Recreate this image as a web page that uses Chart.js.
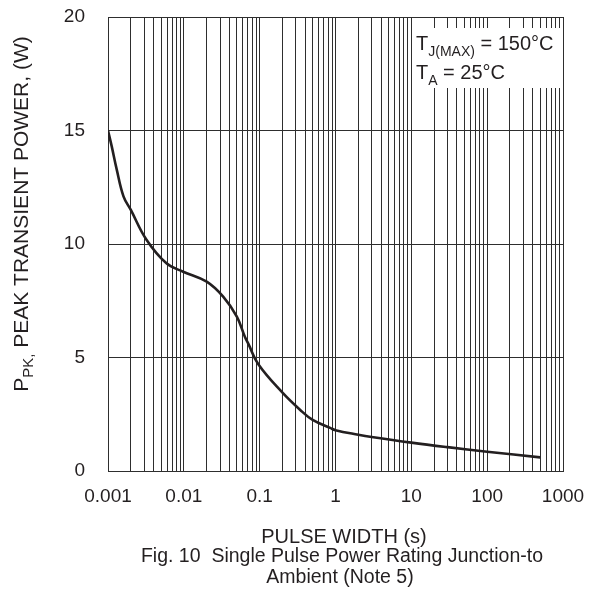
<!DOCTYPE html>
<html>
<head>
<meta charset="utf-8">
<script src="https://cdn.jsdelivr.net/npm/chart.js@4"></script>
<style>
  html, body { margin: 0; padding: 0; background: #fff; }
  canvas { display: block; }
</style>
</head>
<body>
<canvas id="pulseChart" width="598" height="591"></canvas>
<script>
// pulse width (s) and peak transient power (W)
const pulseWidth = [0.001, 0.00112, 0.0013, 0.0016, 0.002, 0.0032, 0.0059, 0.0098, 0.02, 0.033, 0.05, 0.064, 0.071, 0.096, 0.2, 0.34, 0.5, 0.85, 1, 2, 3, 10, 30, 100, 500];
const peakPower = [15.0, 14.3, 13.3, 12.1, 11.5, 10.2, 9.15, 8.78, 8.34, 7.68, 6.8, 5.9, 5.6, 4.7, 3.45, 2.7, 2.25, 1.9, 1.8, 1.6, 1.5, 1.25, 1.05, 0.85, 0.6];

const xTickLabels = ["0.001", "0.01", "0.1", "1", "10", "100", "1000"];
const yTicks = [0, 5, 10, 15, 20];

const FONT = "'Liberation Sans', Arial, sans-serif";
const INK = "#231f20";
const GRID = "#2e2e2e";

const textPlugin = {
  id: "textPlugin",
  afterDraw(chart) {
    const { ctx, chartArea, scales } = chart;
    ctx.save();
    ctx.fillStyle = INK;
    ctx.textBaseline = "alphabetic";

    // condition box, top right
    const boxLeft = scales.x.getPixelForValue(10) + 1.5;
    ctx.fillStyle = "#fff";
    ctx.fillRect(boxLeft, 28, chartArea.right - 1 - boxLeft, 60);
    ctx.fillStyle = INK;
    ctx.textAlign = "left";
    let x = 416;
    ctx.font = "20px " + FONT;
    ctx.fillText("T", x, 50);
    x += ctx.measureText("T").width;
    ctx.font = "14px " + FONT;
    ctx.fillText("J(MAX)", x, 56);
    x += ctx.measureText("J(MAX)").width;
    ctx.font = "20px " + FONT;
    ctx.fillText(" = 150°C", x, 50);

    x = 416;
    ctx.fillText("T", x, 79);
    x += ctx.measureText("T").width;
    ctx.font = "14px " + FONT;
    ctx.fillText("A", x, 85);
    x += ctx.measureText("A").width;
    ctx.font = "20px " + FONT;
    ctx.fillText(" = 25°C", x, 79);

    // x axis title and caption
    ctx.textAlign = "center";
    ctx.font = "20px " + FONT;
    ctx.fillText("PULSE WIDTH (s)", 344, 543);
    ctx.font = "19.5px " + FONT;
    ctx.fillText("Fig. 10  Single Pulse Power Rating Junction-to", 342, 562);
    ctx.fillText("Ambient (Note 5)", 340, 583);

    // y axis title with subscript, rotated
    ctx.translate(28, 214);
    ctx.rotate(-Math.PI / 2);
    ctx.textAlign = "left";
    const parts = [
      ["P", "21px", 0],
      ["PK,", "15px", 5],
      [" PEAK TRANSIENT POWER, (W)", "21px", 0],
    ];
    let total = 0;
    parts.forEach(([t, size]) => {
      ctx.font = size + " " + FONT;
      total += ctx.measureText(t).width;
    });
    let px = -total / 2;
    parts.forEach(([t, size, dy]) => {
      ctx.font = size + " " + FONT;
      ctx.fillText(t, px, dy);
      px += ctx.measureText(t).width;
    });
    ctx.restore();
  },
};

const ctx = document.getElementById("pulseChart").getContext("2d");

new Chart(ctx, {
  type: "line",
  data: {
    datasets: [{
      data: pulseWidth.map((w, i) => ({ x: w, y: peakPower[i] })),
      borderColor: INK,
      borderWidth: 2.6,
      pointRadius: 0,
      fill: false,
      tension: 0.4,
    }],
  },
  options: {
    responsive: false,
    animation: false,
    layout: { padding: { top: 17, right: 35, left: 0, bottom: 0 } },
    plugins: {
      legend: { display: false },
      tooltip: { enabled: false },
    },
    scales: {
      x: {
        type: "logarithmic",
        min: 0.001,
        max: 1000,
        afterBuildTicks(scale) {
          const t = [];
          for (let e = -3; e < 3; e++) {
            for (let m = 1; m < 10; m++) t.push({ value: m * Math.pow(10, e) });
          }
          t.push({ value: 1000 });
          scale.ticks = t;
        },
        afterFit(scale) {
          scale.height = 120;
          scale.paddingLeft = 0;
          scale.paddingRight = 0;
        },
        grid: { color: GRID, lineWidth: 1, drawTicks: false },
        border: { color: GRID, width: 1 },
        ticks: {
          autoSkip: false,
          maxRotation: 0,
          padding: 14,
          color: INK,
          font: { family: FONT, size: 19 },
          callback(v) {
            const lg = Math.log10(v);
            if (Math.abs(lg - Math.round(lg)) > 1e-6) return "";
            return xTickLabels[Math.round(lg) + 3];
          },
        },
      },
      y: {
        min: 0,
        max: 20,
        afterBuildTicks(scale) {
          scale.ticks = yTicks.map((v) => ({ value: v }));
        },
        afterFit(scale) {
          scale.width = 108;
          scale.paddingTop = 0;
          scale.paddingBottom = 0;
        },
        grid: { color: GRID, lineWidth: 1, drawTicks: false },
        border: { color: GRID, width: 1 },
        ticks: {
          padding: 23,
          color: INK,
          font: { family: FONT, size: 19 },
        },
      },
    },
  },
  plugins: [textPlugin],
});
</script>
</body>
</html>
